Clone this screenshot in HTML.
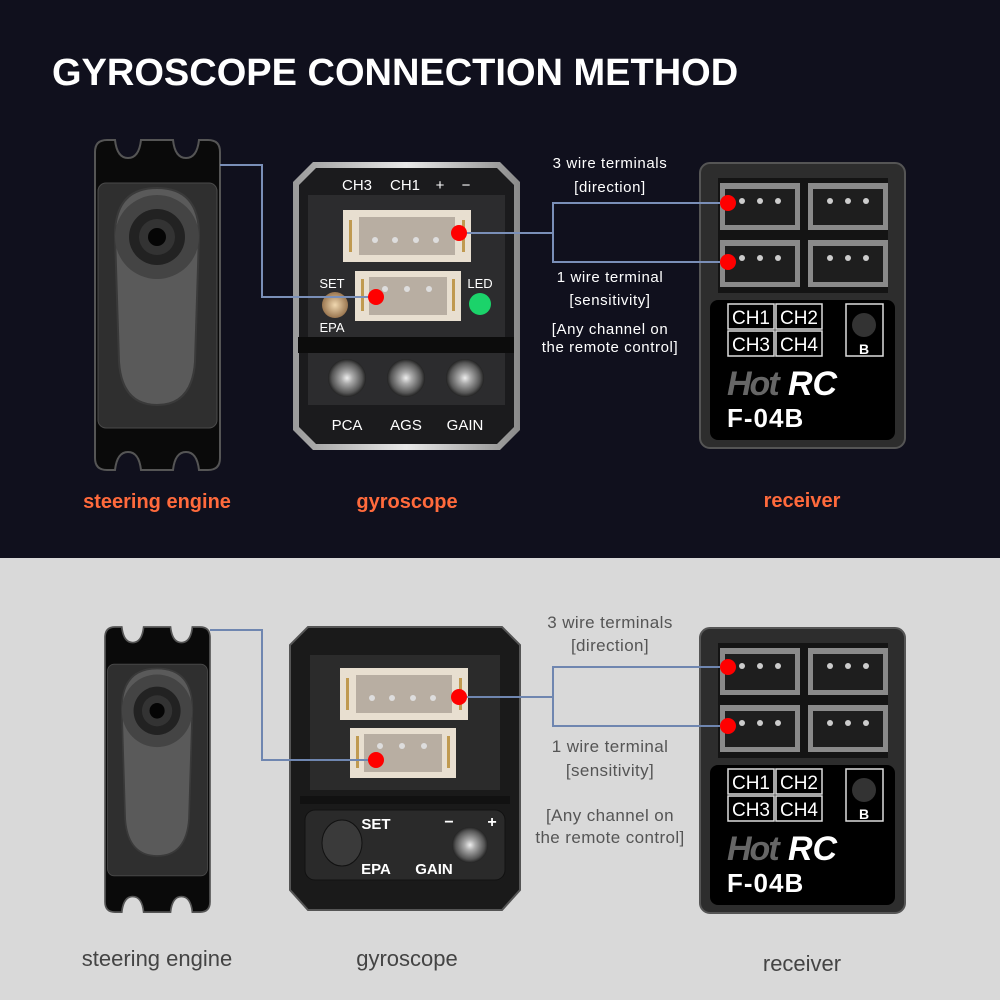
<!DOCTYPE html>
<html><head><meta charset="utf-8"><style>
html,body{margin:0;padding:0;width:1000px;height:1000px;overflow:hidden}
svg{display:block}
text{font-family:"Liberation Sans",sans-serif}
</style></head><body>
<svg width="1000" height="1000" viewBox="0 0 1000 1000" xmlns="http://www.w3.org/2000/svg">
<defs>
<linearGradient id="silver" x1="0" x2="1" y1="0" y2="0">
<stop offset="0" stop-color="#9a9a9a"/><stop offset="0.5" stop-color="#e8e8e8"/><stop offset="1" stop-color="#8a8a8a"/></linearGradient>
<radialGradient id="brass"><stop offset="0" stop-color="#f0d8b0"/><stop offset="1" stop-color="#9a7650"/></radialGradient>
<radialGradient id="knob"><stop offset="0" stop-color="#eee"/><stop offset="0.3" stop-color="#aaa"/><stop offset="0.8" stop-color="#555"/><stop offset="1" stop-color="#222"/></radialGradient>
<g id="servo">
 <path d="M0,12 Q0,0 12,0 L20,0 Q22,18 33,18 Q44,18 46,0 L78,0 Q80,18 91,18 Q102,18 104,0 L113,0 Q125,0 125,12 L125,318 Q125,330 113,330 L104,330 Q102,312 91,312 Q80,312 78,330 L46,330 Q44,312 33,312 Q22,312 20,330 L12,330 Q0,330 0,318 Z" fill="#0a0a0a" stroke="#555" stroke-width="2"/>
 <rect x="3" y="43" width="119" height="245" rx="8" fill="#2f2f2f" stroke="#4a4a4a"/>
 <path d="M20,95 Q20,48 62,48 Q104,48 104,95 L100,222 Q97,265 62,265 Q27,265 24,222 Z" fill="#5a5a5a" stroke="#3a3a3a" stroke-width="2"/>
 <circle cx="62" cy="97" r="42" fill="#444"/>
 <circle cx="62" cy="97" r="28" fill="#222"/>
 <circle cx="62" cy="97" r="18" fill="#333"/>
 <circle cx="62" cy="97" r="9" fill="#050505"/>
</g>
<g id="conn4">
 <rect x="0" y="0" width="128" height="52" fill="#e8dfd0"/>
 <rect x="16" y="7" width="96" height="38" fill="#b8aea2"/>
 <rect x="6" y="10" width="3" height="32" fill="#c09a50"/><rect x="119" y="10" width="3" height="32" fill="#c09a50"/>
 <circle cx="32" cy="30" r="3" fill="#ddd"/><circle cx="52" cy="30" r="3" fill="#ddd"/><circle cx="73" cy="30" r="3" fill="#ddd"/><circle cx="93" cy="30" r="3" fill="#ddd"/>
</g>
<g id="conn3">
 <rect x="0" y="0" width="106" height="50" fill="#e8dfd0"/>
 <rect x="14" y="6" width="78" height="38" fill="#b8aea2"/>
 <rect x="6" y="8" width="3" height="32" fill="#c09a50"/><rect x="97" y="8" width="3" height="32" fill="#c09a50"/>
 <circle cx="30" cy="18" r="3" fill="#ddd"/><circle cx="52" cy="18" r="3" fill="#ddd"/><circle cx="74" cy="18" r="3" fill="#ddd"/>
</g>
<g id="sock">
 <rect x="0" y="0" width="80" height="47" fill="#8a8a8a"/>
 <rect x="5" y="6" width="70" height="36" fill="#1e1e1e"/>
 <circle cx="22" cy="18" r="3" fill="#ccc"/><circle cx="40" cy="18" r="3" fill="#ccc"/><circle cx="58" cy="18" r="3" fill="#ccc"/>
</g>
<g id="recv">
 <rect x="0" y="0" width="205" height="285" rx="10" fill="#2d2d2d" stroke="#555" stroke-width="2"/>
 <rect x="10" y="137" width="185" height="140" rx="8" fill="#000"/>
 <rect x="18" y="15" width="170" height="115" fill="#141414"/>
 <use href="#sock" x="20" y="20"/><use href="#sock" x="108" y="20"/>
 <use href="#sock" x="20" y="77"/><use href="#sock" x="108" y="77"/>
 <rect x="28" y="141" width="46" height="25" fill="none" stroke="#ddd" stroke-width="1.5"/>
 <rect x="76" y="141" width="46" height="25" fill="none" stroke="#ddd" stroke-width="1.5"/>
 <rect x="28" y="168" width="46" height="25" fill="none" stroke="#ddd" stroke-width="1.5"/>
 <rect x="76" y="168" width="46" height="25" fill="none" stroke="#ddd" stroke-width="1.5"/>
 <text x="51" y="161" font-size="19" fill="#fff" text-anchor="middle">CH1</text>
 <text x="99" y="161" font-size="19" fill="#fff" text-anchor="middle">CH2</text>
 <text x="51" y="188" font-size="19" fill="#fff" text-anchor="middle">CH3</text>
 <text x="99" y="188" font-size="19" fill="#fff" text-anchor="middle">CH4</text>
 <rect x="146" y="141" width="37" height="52" fill="none" stroke="#ddd" stroke-width="1.5"/>
 <circle cx="164" cy="162" r="12" fill="#333"/>
 <text x="164" y="191" font-size="14" font-weight="bold" fill="#fff" text-anchor="middle">B</text>
 <text x="27" y="232" font-size="34" font-style="italic" font-weight="bold" fill="#666" letter-spacing="-2">Hot</text>
 <text x="88" y="232" font-size="34" font-style="italic" font-weight="bold" fill="#fff">RC</text>
 <text x="27" y="264" font-size="26" font-weight="bold" fill="#fff" letter-spacing="1">F-04B</text>
</g>
</defs>

<!-- TOP -->
<rect x="0" y="0" width="1000" height="558" fill="#10101d"/>
<text x="52" y="85" font-size="38" font-weight="bold" fill="#fff">GYROSCOPE CONNECTION METHOD</text>
<use href="#servo" x="95" y="140"/>
<path d="M313,162 L500,162 L520,182 L520,430 L500,450 L313,450 L293,430 L293,182 Z" fill="url(#silver)"/>
<path d="M316,168 L497,168 L514,185 L514,427 L497,444 L316,444 L299,427 L299,185 Z" fill="#1b1b1d"/>
<rect x="308" y="195" width="197" height="210" fill="#2c2c2e"/>
<rect x="298" y="337" width="216" height="16" fill="#0c0c0c"/>
<text x="357" y="190" font-size="15" fill="#fff" text-anchor="middle">CH3</text>
<text x="405" y="190" font-size="15" fill="#fff" text-anchor="middle">CH1</text>
<text x="440" y="190" font-size="15" fill="#fff" text-anchor="middle">+</text>
<text x="466" y="190" font-size="15" fill="#fff" text-anchor="middle">−</text>
<use href="#conn4" x="343" y="210"/>
<use href="#conn3" x="355" y="271"/>
<text x="332" y="288" font-size="13" fill="#fff" text-anchor="middle">SET</text>
<circle cx="335" cy="305" r="13" fill="url(#brass)"/>
<text x="332" y="332" font-size="13" fill="#fff" text-anchor="middle">EPA</text>
<text x="480" y="288" font-size="13" fill="#fff" text-anchor="middle">LED</text>
<circle cx="480" cy="304" r="11" fill="#1bd36a"/>
<circle cx="347" cy="378" r="19" fill="url(#knob)"/>
<circle cx="406" cy="378" r="19" fill="url(#knob)"/>
<circle cx="465" cy="378" r="19" fill="url(#knob)"/>
<text x="347" y="430" font-size="15" fill="#fff" text-anchor="middle">PCA</text>
<text x="406" y="430" font-size="15" fill="#fff" text-anchor="middle">AGS</text>
<text x="465" y="430" font-size="15" fill="#fff" text-anchor="middle">GAIN</text>
<use href="#recv" x="700" y="163"/>
<g fill="none" stroke="#7a8fb8" stroke-width="2">
<polyline points="220,165 262,165 262,297 376,297"/>
<polyline points="459,233 553,233"/>
<polyline points="728,203 553,203 553,262 728,262"/>
</g>
<g fill="#f00"><circle cx="459" cy="233" r="8"/><circle cx="376" cy="297" r="8"/><circle cx="728" cy="203" r="8"/><circle cx="728" cy="262" r="8"/></g>
<g font-size="15" fill="#fff" text-anchor="middle" letter-spacing="0.6">
<text x="610" y="168">3 wire terminals</text>
<text x="610" y="192">[direction]</text>
<text x="610" y="282">1 wire terminal</text>
<text x="610" y="305">[sensitivity]</text>
<text x="610" y="334">[Any channel on</text>
<text x="610" y="352">the remote control]</text>
</g>
<g font-size="20" font-weight="bold" fill="#ff6a3c" text-anchor="middle">
<text x="157" y="508">steering engine</text>
<text x="407" y="508">gyroscope</text>
<text x="802" y="507">receiver</text>
</g>

<!-- BOTTOM -->
<rect x="0" y="558" width="1000" height="442" fill="#d9d9d9"/>
<use href="#servo" transform="translate(105,627) scale(0.84,0.864)"/>
<path d="M308,627 L502,627 L520,645 L520,890 L502,910 L308,910 L290,890 L290,645 Z" fill="#1a1a1a" stroke="#555" stroke-width="2"/>
<rect x="310" y="655" width="190" height="135" fill="#2b2b2b"/>
<rect x="300" y="796" width="210" height="8" fill="#111"/>
<rect x="305" y="810" width="200" height="70" rx="10" fill="#2a2a2a" stroke="#111"/>
<use href="#conn4" x="340" y="668"/>
<use href="#conn3" x="350" y="728"/>
<ellipse cx="342" cy="843" rx="20" ry="23" fill="#3a3a3a" stroke="#111"/>
<text x="376" y="829" font-size="15" font-weight="bold" fill="#fff" text-anchor="middle">SET</text>
<text x="376" y="874" font-size="15" font-weight="bold" fill="#fff" text-anchor="middle">EPA</text>
<text x="434" y="874" font-size="15" font-weight="bold" fill="#fff" text-anchor="middle">GAIN</text>
<text x="449" y="827" font-size="16" font-weight="bold" fill="#fff" text-anchor="middle">−</text>
<text x="492" y="827" font-size="16" font-weight="bold" fill="#fff" text-anchor="middle">+</text>
<circle cx="470" cy="845" r="18" fill="url(#knob)"/>
<use href="#recv" x="700" y="628"/>
<g fill="none" stroke="#6f86b0" stroke-width="2">
<polyline points="210,630 262,630 262,760 376,760"/>
<polyline points="459,697 553,697"/>
<polyline points="728,667 553,667 553,726 728,726"/>
</g>
<g fill="#f00"><circle cx="459" cy="697" r="8"/><circle cx="376" cy="760" r="8"/><circle cx="728" cy="667" r="8"/><circle cx="728" cy="726" r="8"/></g>
<g font-size="17" fill="#555" text-anchor="middle" letter-spacing="0.4">
<text x="610" y="628">3 wire terminals</text>
<text x="610" y="651">[direction]</text>
<text x="610" y="752">1 wire terminal</text>
<text x="610" y="776">[sensitivity]</text>
<text x="610" y="821">[Any channel on</text>
<text x="610" y="843">the remote control]</text>
</g>
<g font-size="22" fill="#444" text-anchor="middle">
<text x="157" y="966">steering engine</text>
<text x="407" y="966">gyroscope</text>
<text x="802" y="971">receiver</text>
</g>
</svg>
</body></html>
